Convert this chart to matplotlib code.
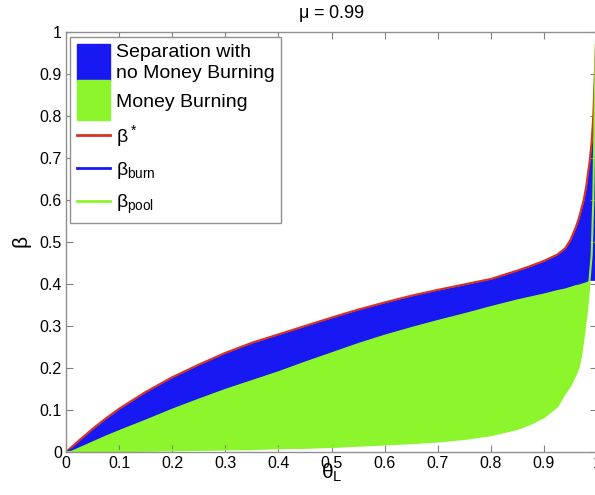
import numpy as np
import matplotlib
matplotlib.use("Agg")
import matplotlib.pyplot as plt
from matplotlib.patches import Patch, Rectangle
from matplotlib.lines import Line2D
from matplotlib.legend_handler import HandlerPatch

plt.rcParams['font.family'] = ['Liberation Sans', 'DejaVu Sans']
plt.rcParams['mathtext.fontset'] = 'custom'
plt.rcParams['mathtext.rm'] = 'Liberation Sans'
plt.rcParams['mathtext.it'] = 'Liberation Sans'

# values
theta = [0, 0.025, 0.05, 0.075, 0.1, 0.15, 0.2, 0.25, 0.3, 0.35, 0.4, 0.45,
         0.5, 0.55, 0.6, 0.65, 0.7, 0.75, 0.8, 0.85, 0.875, 0.9, 0.925, 0.94,
         0.95, 0.96, 0.965, 0.97, 0.975, 0.98, 0.983, 0.986, 0.99, 0.993,
         0.996, 0.998, 1.0]
beta_star = [0, 0.028, 0.055, 0.08, 0.103, 0.143, 0.178, 0.208, 0.236, 0.26,
             0.28, 0.3, 0.32, 0.339, 0.356, 0.372, 0.386, 0.399, 0.412,
             0.432, 0.443, 0.455, 0.47, 0.485, 0.505, 0.535, 0.553, 0.576, 0.6,
             0.635, 0.664, 0.69, 0.74, 0.8, 0.9, 0.97, 1.0]
beta_burn = [0, 0.014, 0.028, 0.042, 0.055, 0.08, 0.106, 0.13, 0.153, 0.174,
             0.195, 0.218, 0.24, 0.262, 0.282, 0.3, 0.317, 0.333, 0.35, 0.366,
             0.373, 0.38, 0.388, 0.392, 0.396, 0.4, 0.401, 0.403, 0.405, 0.407,
             0.409, 0.41, 0.41, 0.41, 0.41, 0.41, 0.41]
beta_pool = [0, 0.0005, 0.001, 0.0015, 0.002, 0.003, 0.004, 0.005, 0.006, 0.007,
             0.009, 0.01, 0.012, 0.015, 0.018, 0.021, 0.025, 0.031, 0.04, 0.055,
             0.067, 0.083, 0.108, 0.14, 0.158, 0.185, 0.2, 0.23, 0.275, 0.325,
             0.36, 0.41, 0.47, 0.6, 0.85, 0.98, 1.0]

blue = '#1818f2'
green = '#8cf52c'
red = '#d8321e'

th = np.array(theta)
bs = np.array(beta_star)
bb = np.array(beta_burn)
bp = np.array(beta_pool)

fig = plt.figure(figsize=(5.95, 4.95), dpi=100)
ax = fig.add_axes([66/595, 43/495, 531/595, 420/495])

ax.fill_between(th, bp, bb, where=bp <= bb, interpolate=True, color=green, lw=0)
ax.fill_between(th, bb, bs, color=blue, lw=0)
ax.plot(th, bs, color=red, lw=1.5)
ax.plot(th, bb, color=blue, lw=1.5)
ax.plot(th, bp, color=green, lw=1.5)

ax.set_xlim(0, 1)
ax.set_ylim(0, 1)
ticks = np.arange(0, 1.01, 0.1)
ax.set_xticks(ticks)
ax.set_yticks(ticks)
labels = ['0'] + ['%.1f' % t for t in ticks[1:-1]] + ['1']
ax.set_xticklabels(labels)
ax.set_yticklabels(labels)
ax.tick_params(direction='in', top=True, right=True, length=5, width=0.8,
               color='#808080', labelsize=11.5, pad=3)
for s in ax.spines.values():
    s.set_color('#909090')
    s.set_linewidth(1.0)

ax.set_title(r'$\mu$ = 0.99', fontsize=13, pad=10)
ax.set_xlabel(r'$\theta_L$', fontsize=15, labelpad=-7)
ax.set_ylabel(r'$\beta$', fontsize=15, labelpad=4)


def block(h, dy):
    # legend patch that fills the whole row like the matlab one
    def f(legend, orig_handle, xdescent, ydescent, width, height, fontsize):
        cy = -ydescent + height / 2 + dy
        return Rectangle((-xdescent, cy - h / 2), width, h)
    return HandlerPatch(patch_func=f)


p_sep = Patch(color=blue)
p_burn = Patch(color=green)
handles = [p_sep, p_burn,
           Line2D([], [], color=red, lw=2),
           Line2D([], [], color=blue, lw=2),
           Line2D([], [], color=green, lw=2)]
names = ['Separation with\nno Money Burning', 'Money Burning',
         r'$\beta^*$', r'$\beta_{burn}$', r'$\beta_{pool}$']
leg = ax.legend(handles, names, loc='upper left',
                bbox_to_anchor=(4/531, 415/420), borderaxespad=0,
                fontsize=14, fancybox=False, framealpha=1,
                handlelength=1.7, handletextpad=0.3,
                labelspacing=0.6, borderpad=0.35,
                handler_map={p_sep: block(26.6, 0), p_burn: block(28.8, 0)})
leg.get_texts()[0].set_linespacing(1.3)
leg.get_frame().set_edgecolor('#909090')
leg.get_frame().set_linewidth(1.0)

fig.savefig('out.png', dpi=100)
